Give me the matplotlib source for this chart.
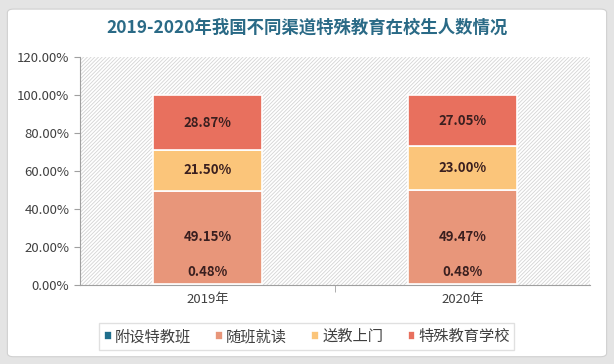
import matplotlib.pyplot as plt
from matplotlib.patches import FancyBboxPatch, Rectangle
from matplotlib.ticker import PercentFormatter

plt.rcParams['font.family'] = ['Noto Sans CJK SC', 'DejaVu Sans']
plt.rcParams['hatch.color'] = '#D4D4D4'
plt.rcParams['hatch.linewidth'] = 0.6

# 数据
years = ['2019年', '2020年']
fushe = [0.48, 0.48]        # 附设特教班
suiban = [49.15, 49.47]     # 随班就读
songjiao = [21.50, 23.00]   # 送教上门
teshu = [28.87, 27.05]      # 特殊教育学校
series_names = ['附设特教班', '随班就读', '送教上门', '特殊教育学校']
colors = ['#1F6E8C', '#E8967A', '#FBC57A', '#E8705E']

fig = plt.figure(figsize=(6.14, 3.64), dpi=100)
fig.patch.set_facecolor('#E4E4E4')
panel = FancyBboxPatch((0.012, 0.02), 0.976, 0.955, boxstyle='round,pad=0,rounding_size=0.01',
                       transform=fig.transFigure, facecolor='white', edgecolor='#D0D0D0',
                       lw=0.8, zorder=-5)
fig.patches.append(panel)

ax = fig.add_axes([0.130, 0.217, 0.831, 0.626])
ax.set_facecolor('white')
# 斜线底纹
ax.add_patch(Rectangle((0, 0), 1, 1, transform=ax.transAxes, facecolor='white',
                       edgecolor='#D4D4D4', hatch='/////////', lw=0, zorder=0))

x = range(len(years))
all_series = [fushe, suiban, songjiao, teshu]
bottom = [0.0, 0.0]
for name, vals, c in zip(series_names, all_series, colors):
    bars = ax.bar(x, [v / 100 for v in vals], 0.43, bottom=[b / 100 for b in bottom],
                  color=c, edgecolor='white', linewidth=1.2, label=name, zorder=2)
    for i, r in enumerate(bars):
        cy = r.get_y() + r.get_height() / 2
        off = 9 if vals[i] < 2 else 0
        ax.annotate(f'{vals[i]:.2f}%', (r.get_x() + r.get_width() / 2, cy),
                    xytext=(0, off), textcoords='offset points',
                    ha='center', va='center', fontsize=9.5, fontweight='bold',
                    color='#3A1F1F', zorder=3)
    bottom = [b + v for b, v in zip(bottom, vals)]

ax.set_xlim(-0.5, 1.5)
ax.set_ylim(0, 1.2)
ax.set_yticks([i * 0.2 for i in range(7)])
ax.yaxis.set_major_formatter(PercentFormatter(1.0, decimals=2))
ax.set_xticks(list(x))
ax.set_xticklabels(years)
ax.set_xticks([0.5], minor=True)
ax.tick_params(axis='x', which='major', length=0, labelsize=9.5, colors='#404040', pad=6)
ax.tick_params(axis='x', which='minor', length=5, color='#A0A0A0')
ax.tick_params(axis='y', length=4, color='#A0A0A0', labelsize=9.5, labelcolor='#404040')
for s in ['top', 'right']:
    ax.spines[s].set_visible(False)
ax.spines['left'].set_color('#A0A0A0')
ax.spines['bottom'].set_color('#A0A0A0')

fig.text(0.5, 0.923, '2019-2020年我国不同渠道特殊教育在校生人数情况', ha='center', va='center',
         fontsize=12.5, fontweight='bold', color='#2A6A86')

leg = ax.legend(loc='upper center', bbox_to_anchor=(0.445, -0.135), ncol=4, frameon=True,
                fontsize=11, handlelength=0.5, handleheight=0.5, handletextpad=0.2,
                columnspacing=1.6, borderpad=0.3, fancybox=False, edgecolor='#D9D9D9')
for t in leg.get_texts():
    t.set_color('#404040')

fig.savefig('out.png', dpi=100, facecolor=fig.get_facecolor())
